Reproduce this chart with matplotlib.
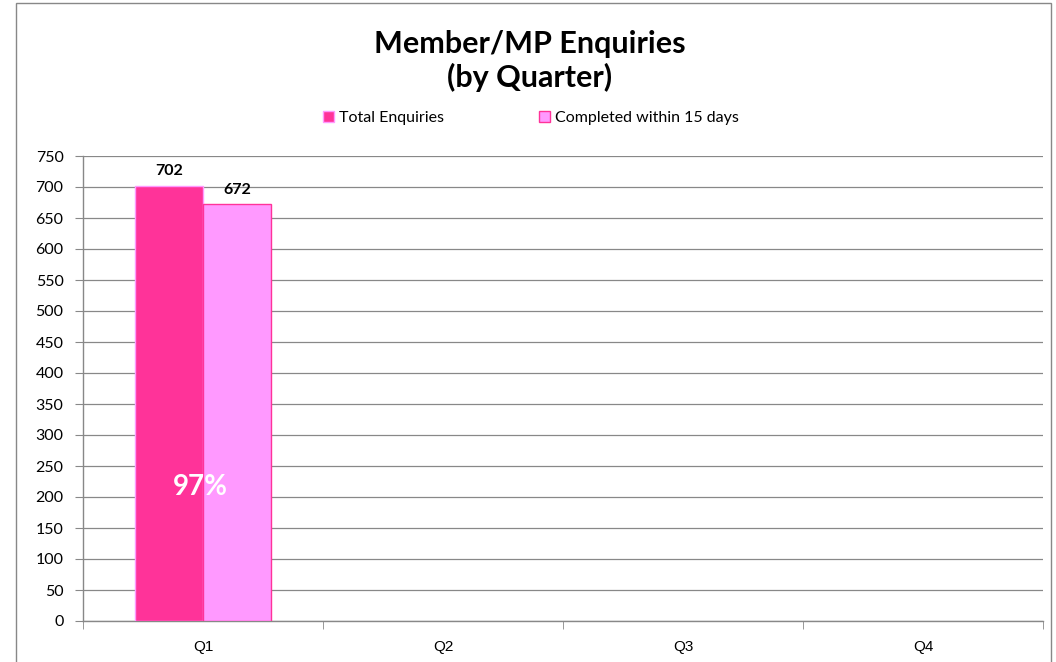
import matplotlib
matplotlib.use("Agg")
import matplotlib.pyplot as plt
import numpy as np
from matplotlib.patches import Rectangle

categories = ["Q1", "Q2", "Q3", "Q4"]
total_enquiries = [702, np.nan, np.nan, np.nan]
completed_15 = [672, np.nan, np.nan, np.nan]
series_names = ["Total Enquiries", "Completed within 15 days"]
pct_label = "97%"
title = "Member/MP Enquiries\n(by Quarter)"
yticks = list(range(0, 751, 50))

plt.rcParams['font.family'] = ['Lato', 'DejaVu Sans']

fig = plt.figure(figsize=(10.56, 6.62), dpi=100)
ax = fig.add_axes([83/1056, 1-621/662, (1043-83)/1056, (621-156)/662])

x = np.arange(len(categories))
w = 0.283
c1, c2 = "#FF3399", "#FF99FF"
b1 = ax.bar(x - w/2, total_enquiries, w, color=c1, edgecolor=c2, linewidth=1, label=series_names[0], zorder=3)
b2 = ax.bar(x + w/2, completed_15, w, color=c2, edgecolor=c1, linewidth=1, label=series_names[1], zorder=3)

for xi, v in zip(x - w/2, total_enquiries):
    if not np.isnan(v):
        ax.text(xi, v + 12, f"{int(v)}", ha='center', va='bottom', fontsize=11.5, fontweight='bold')
for xi, v in zip(x + w/2, completed_15):
    if not np.isnan(v):
        ax.text(xi, v + 12, f"{int(v)}", ha='center', va='bottom', fontsize=11.5, fontweight='bold')

ax.text(x[0] - 0.01, 216, pct_label, ha='center', va='center', fontsize=20, fontweight='bold', color='white', zorder=4)

ax.set_xlim(-0.5, len(categories) - 0.5)
ax.set_ylim(0, 750)
ax.set_yticks(yticks)
ax.set_yticklabels([str(t) for t in yticks], fontsize=11.5)
ax.yaxis.grid(True, color='#888888', linewidth=0.9, zorder=0)
ax.set_axisbelow(True)

ax.set_xticks(x)
ax.set_xticklabels(categories, fontsize=11, family=['Liberation Sans'])
ax.set_xticks(np.arange(-0.5, len(categories), 1), minor=True)
ax.tick_params(axis='x', which='major', length=0, pad=14)
ax.tick_params(axis='x', which='minor', length=6, color='#888888', direction='out')
ax.tick_params(axis='y', length=6, color='#888888', direction='out', pad=8)

for s in ['top', 'right']:
    ax.spines[s].set_visible(False)
for s in ['left', 'bottom']:
    ax.spines[s].set_color('#888888')
    ax.spines[s].set_linewidth(1)

fig.text(530/1056, 1-61/662, title, ha='center', va='center', fontsize=22, fontweight='bold', linespacing=1.2)

leg = fig.legend(handles=[b1, b2], labels=series_names, loc='center', bbox_to_anchor=(531/1056, 1-118/662),
                 ncol=2, frameon=False, fontsize=11.5, handlelength=0.65, handleheight=0.65,
                 handletextpad=0.3, columnspacing=6.0)

fig.patches.append(Rectangle((16/1056, -0.01), (1051-16)/1056, 1-3/662 + 0.01, transform=fig.transFigure,
                             fill=False, edgecolor='#888888', linewidth=1))

fig.savefig("out.png", dpi=100)
